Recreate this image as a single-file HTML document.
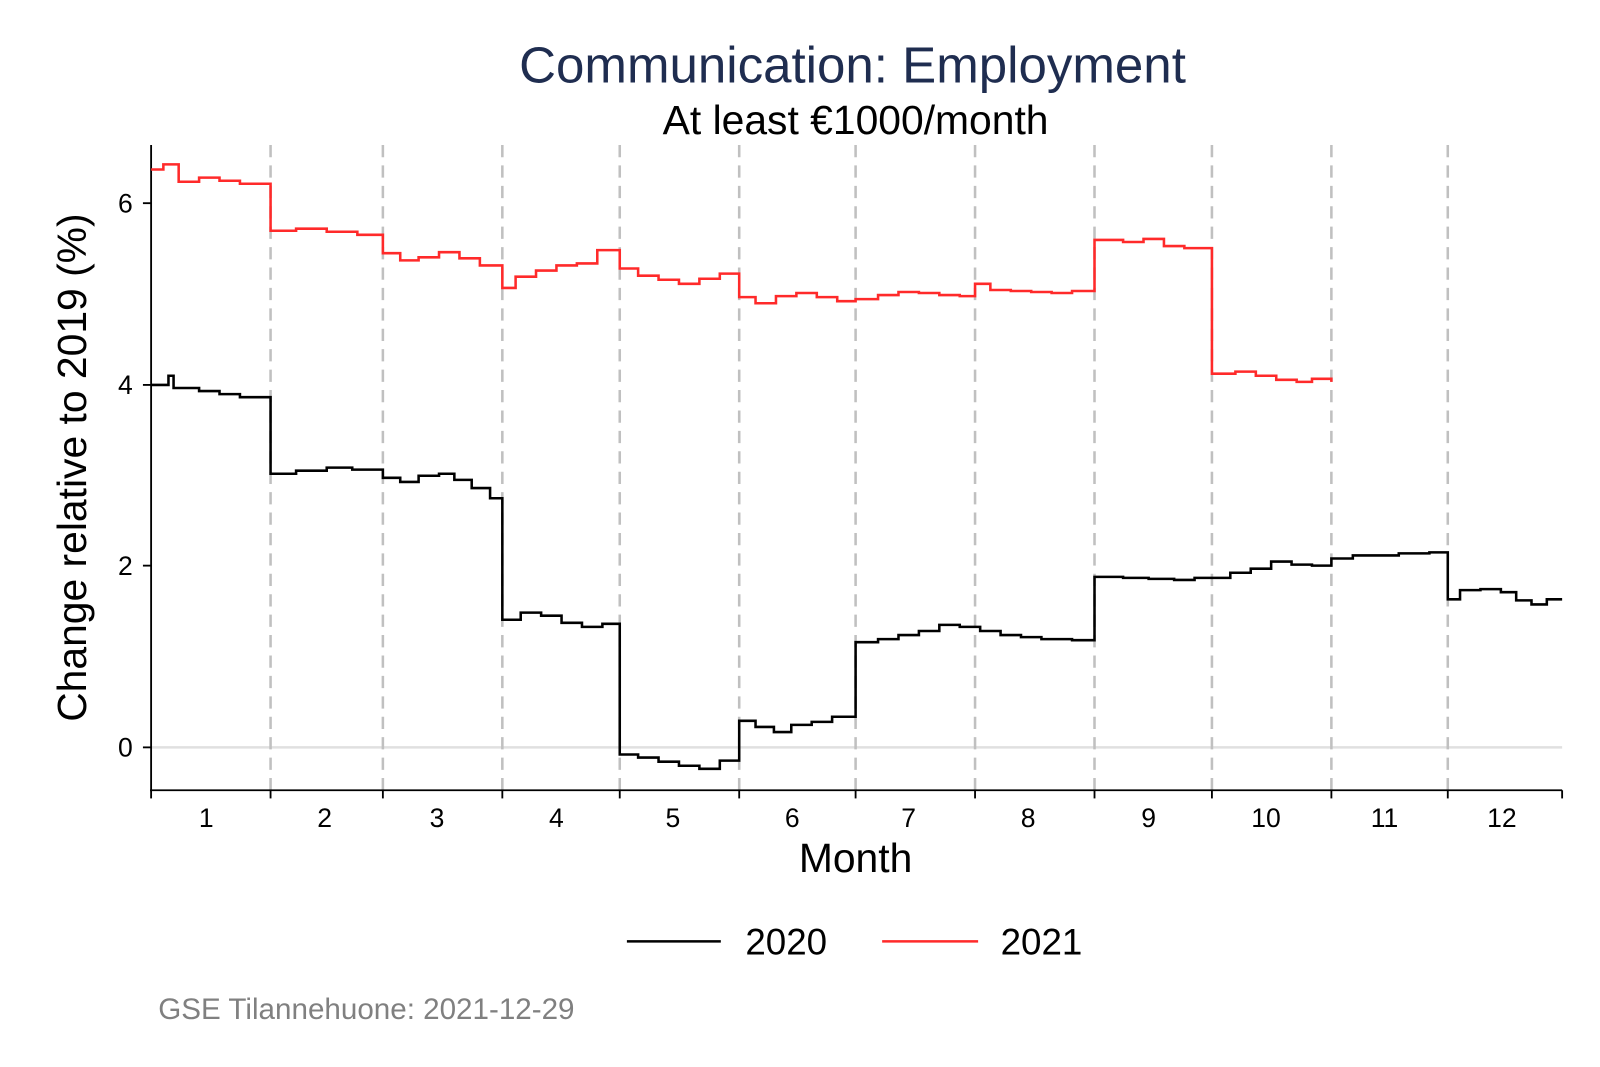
<!DOCTYPE html>
<html><head><meta charset="utf-8"><style>html,body{margin:0;padding:0;background:#fff}svg{display:block}text{font-family:"Liberation Sans",Arial,sans-serif}</style></head>
<body>
<svg width="1600" height="1067" viewBox="0 0 1600 1067" xmlns="http://www.w3.org/2000/svg">
<rect width="1600" height="1067" fill="#fff"/>
<g transform="scale(1.021)">
<text x="835" y="81" font-size="50" fill="#1f2d50" text-anchor="middle">Communication: Employment</text>
<text x="838" y="131" font-size="40" fill="#000" text-anchor="middle">At least €1000/month</text>
<line x1="148" y1="732" x2="1530" y2="732" stroke="#e0e0e0" stroke-width="2.5"/>
<g stroke="#c0c0c0" stroke-width="2.5" stroke-dasharray="12,8">
<line x1="265" y1="142" x2="265" y2="774"/><line x1="375" y1="142" x2="375" y2="774"/><line x1="492" y1="142" x2="492" y2="774"/><line x1="607" y1="142" x2="607" y2="774"/><line x1="724" y1="142" x2="724" y2="774"/><line x1="838" y1="142" x2="838" y2="774"/><line x1="955" y1="142" x2="955" y2="774"/><line x1="1072" y1="142" x2="1072" y2="774"/><line x1="1187" y1="142" x2="1187" y2="774"/><line x1="1304" y1="142" x2="1304" y2="774"/><line x1="1418" y1="142" x2="1418" y2="774"/>
</g>
<g stroke="#000" stroke-width="1.8">
<line x1="148" y1="142" x2="148" y2="775"/><line x1="147" y1="774" x2="1530" y2="774"/>
<line x1="140" y1="199" x2="148" y2="199"/><line x1="140" y1="377" x2="148" y2="377"/><line x1="140" y1="554" x2="148" y2="554"/><line x1="140" y1="732" x2="148" y2="732"/>
<line x1="148" y1="774" x2="148" y2="782"/><line x1="265" y1="774" x2="265" y2="782"/><line x1="375" y1="774" x2="375" y2="782"/><line x1="492" y1="774" x2="492" y2="782"/><line x1="607" y1="774" x2="607" y2="782"/><line x1="724" y1="774" x2="724" y2="782"/><line x1="838" y1="774" x2="838" y2="782"/><line x1="955" y1="774" x2="955" y2="782"/><line x1="1072" y1="774" x2="1072" y2="782"/><line x1="1187" y1="774" x2="1187" y2="782"/><line x1="1304" y1="774" x2="1304" y2="782"/><line x1="1418" y1="774" x2="1418" y2="782"/><line x1="1530" y1="774" x2="1530" y2="782"/>
</g>
<g font-size="26" text-anchor="end" fill="#000">
<text x="130" y="208">6</text><text x="130" y="386">4</text><text x="130" y="563">2</text><text x="130" y="741">0</text>
</g>
<g font-size="26" text-anchor="middle" fill="#000">
<text x="202" y="810">1</text><text x="318" y="810">2</text><text x="428" y="810">3</text><text x="545" y="810">4</text><text x="659" y="810">5</text><text x="776" y="810">6</text><text x="890" y="810">7</text><text x="1007" y="810">8</text><text x="1125" y="810">9</text><text x="1240" y="810">10</text><text x="1356" y="810">11</text><text x="1471" y="810">12</text>
</g>
<text x="838" y="854" font-size="40" text-anchor="middle">Month</text>
<text transform="translate(84,458) rotate(-90)" font-size="40" text-anchor="middle">Change relative to 2019 (%)</text>
<path fill="none" stroke="#000" stroke-width="2.5" d="M148,377 H165 V368 H170 V380 H195 V383 H215 V386 H235 V389 H265 V464 H290 V461 H320 V458 H345 V460 H375 V468 H392 V472 H410 V466 H430 V464 H445 V470 H462 V478 H480 V488 H492 V607 H510 V600 H530 V603 H550 V610 H570 V614 H590 V611 H607 V739 H625 V742 H645 V746 H665 V750 H685 V753 H705 V745 H724 V706 H740 V712 H758 V717 H775 V710 H795 V707 H815 V702 H838 V629 H860 V626 H880 V622 H900 V618 H920 V612 H940 V614 H960 V618 H980 V622 H1000 V624 H1020 V626 H1050 V627 H1072 V565 H1100 V566 H1125 V567 H1150 V568 H1170 V566 H1187 V566 H1205 V561 H1225 V557 H1245 V550 H1265 V553 H1285 V554 H1304 V547 H1325 V544 H1345 V544 H1370 V542 H1400 V541 H1418 V587 H1430 V578 H1450 V577 H1470 V580 H1485 V588 H1500 V592 H1515 V587 H1530"/>
<path fill="none" stroke="#ff2a2a" stroke-width="2.5" d="M148,166 H160 V161 H175 V178 H195 V174 H215 V177 H235 V180 H265 V226 H290 V224 H320 V227 H350 V230 H375 V248 H392 V255 H410 V252 H430 V247 H450 V253 H470 V260 H492 V282 H505 V271 H525 V265 H545 V260 H565 V258 H585 V245 H607 V263 H625 V270 H645 V274 H665 V278 H685 V273 H705 V268 H724 V291 H740 V297 H760 V290 H780 V287 H800 V291 H820 V295 H838 V293 H860 V289 H880 V286 H900 V287 H920 V289 H940 V290 H955 V278 H970 V284 H990 V285 H1010 V286 H1030 V287 H1050 V285 H1072 V235 H1100 V237 H1120 V234 H1140 V241 H1160 V243 H1187 V366 H1210 V364 H1230 V368 H1250 V372 H1270 V374 H1285 V371 H1304 V374"/>
<line x1="614" y1="922" x2="706" y2="922" stroke="#000" stroke-width="2.5"/>
<text x="730" y="935" font-size="36">2020</text>
<line x1="864" y1="922" x2="958" y2="922" stroke="#ff2a2a" stroke-width="2.5"/>
<text x="980" y="935" font-size="36">2021</text>
<text x="155" y="998" font-size="29" fill="#808080">GSE Tilannehuone: 2021-12-29</text>
</g>
</svg>
</body></html>
